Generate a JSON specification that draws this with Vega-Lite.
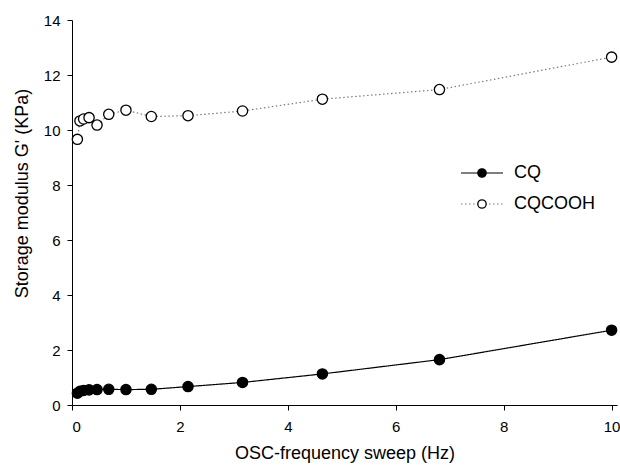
{
  "$schema": "https://vega.github.io/schema/vega-lite/v6.json",
  "width": 545,
  "height": 385,
  "autosize": {"type": "none"},
  "padding": {"left": 72, "top": 20, "right": 3, "bottom": 64},
  "background": "white",
  "config": {
    "view": {"stroke": null},
    "font": "Liberation Sans",
    "axis": {
      "domainColor": "black",
      "domainWidth": 1,
      "tickColor": "black",
      "tickSize": 5,
      "labelColor": "black",
      "labelFont": "Liberation Sans",
      "labelFontSize": 15,
      "titleColor": "black",
      "titleFont": "Liberation Sans",
      "titleFontSize": 18,
      "titleFontWeight": "normal",
      "grid": false
    },
    "legend": {
      "labelFont": "Liberation Sans",
      "labelFontSize": 18,
      "labelColor": "black",
      "padding": 0
    }
  },
  "data": {
    "values": [
      {"freq": 0.1, "G": 0.43, "series": "CQ"},
      {"freq": 0.147, "G": 0.5, "series": "CQ"},
      {"freq": 0.215, "G": 0.53, "series": "CQ"},
      {"freq": 0.316, "G": 0.55, "series": "CQ"},
      {"freq": 0.464, "G": 0.56, "series": "CQ"},
      {"freq": 0.681, "G": 0.57, "series": "CQ"},
      {"freq": 1.0, "G": 0.56, "series": "CQ"},
      {"freq": 1.47, "G": 0.57, "series": "CQ"},
      {"freq": 2.15, "G": 0.67, "series": "CQ"},
      {"freq": 3.16, "G": 0.82, "series": "CQ"},
      {"freq": 4.64, "G": 1.13, "series": "CQ"},
      {"freq": 6.81, "G": 1.65, "series": "CQ"},
      {"freq": 10.0, "G": 2.72, "series": "CQ"},
      {"freq": 0.1, "G": 9.66, "series": "CQCOOH"},
      {"freq": 0.147, "G": 10.33, "series": "CQCOOH"},
      {"freq": 0.215, "G": 10.4, "series": "CQCOOH"},
      {"freq": 0.316, "G": 10.45, "series": "CQCOOH"},
      {"freq": 0.464, "G": 10.18, "series": "CQCOOH"},
      {"freq": 0.681, "G": 10.57, "series": "CQCOOH"},
      {"freq": 1.0, "G": 10.72, "series": "CQCOOH"},
      {"freq": 1.47, "G": 10.49, "series": "CQCOOH"},
      {"freq": 2.15, "G": 10.52, "series": "CQCOOH"},
      {"freq": 3.16, "G": 10.69, "series": "CQCOOH"},
      {"freq": 4.64, "G": 11.12, "series": "CQCOOH"},
      {"freq": 6.81, "G": 11.47, "series": "CQCOOH"},
      {"freq": 10.0, "G": 12.65, "series": "CQCOOH"}
    ]
  },
  "encoding": {
    "x": {
      "field": "freq",
      "type": "quantitative",
      "scale": {"domain": [0, 10.1], "nice": false, "zero": false},
      "axis": {"values": [0, 2, 4, 6, 8, 10], "title": "OSC-frequency sweep (Hz)", "labelPadding": 9, "titlePadding": 10}
    },
    "y": {
      "field": "G",
      "type": "quantitative",
      "scale": {"domain": [0, 14], "nice": false},
      "axis": {"values": [0, 2, 4, 6, 8, 10, 12, 14], "title": "Storage modulus G' (KPa)", "labelPadding": 7, "titlePadding": 12, "titleY": 173}
    }
  },
  "layer": [
    {
      "mark": {"type": "line", "strokeWidth": 1.2},
      "encoding": {
        "color": {
          "field": "series",
          "type": "nominal",
          "scale": {"range": ["black", "#7a7a7a"]},
          "legend": {
            "title": null,
            "orient": "none",
            "legendX": 388,
            "legendY": 131,
            "symbolType": "M-1,0H1",
            "symbolSize": 1764,
            "symbolStrokeWidth": 1.2,
            "rowPadding": -29,
            "labelOffset": 10,
            "encode": {
              "symbols": {
                "update": {
                  "size": {"value": 1764},
                  "strokeWidth": {"value": 1.2},
                  "strokeDash": {"signal": "datum.value === 'CQCOOH' ? [1.5, 2.5] : []"}
                }
              }
            }
          }
        },
        "strokeDash": {
          "field": "series",
          "type": "nominal",
          "scale": {"range": [[1, 0], [1.5, 2.5]]},
          "legend": null
        }
      }
    },
    {
      "mark": {"type": "point", "shape": "circle", "filled": true, "stroke": "black", "strokeWidth": 1.3, "size": 105, "opacity": 1},
      "encoding": {
        "fill": {
          "field": "series",
          "type": "nominal",
          "scale": {"domain": ["CQ", "CQCOOH"], "range": ["black", "white"]},
          "legend": {
            "title": null,
            "orient": "none",
            "legendX": 388,
            "legendY": 131,
            "symbolType": "M-0.2,0A0.2,0.2,0,1,0,0.2,0A0.2,0.2,0,1,0,-0.2,0Z",
            "symbolSize": 1764,
            "symbolStrokeWidth": 1.3,
            "symbolStrokeColor": "black",
            "rowPadding": -29,
            "labelOffset": 10,
            "labelOpacity": 0,
            "encode": {
              "symbols": {
                "update": {
                  "size": {"value": 1764},
                  "stroke": {"value": "black"},
                  "strokeWidth": {"value": 1.3},
                  "opacity": {"value": 1}
                }
              }
            }
          }
        }
      }
    }
  ]
}
